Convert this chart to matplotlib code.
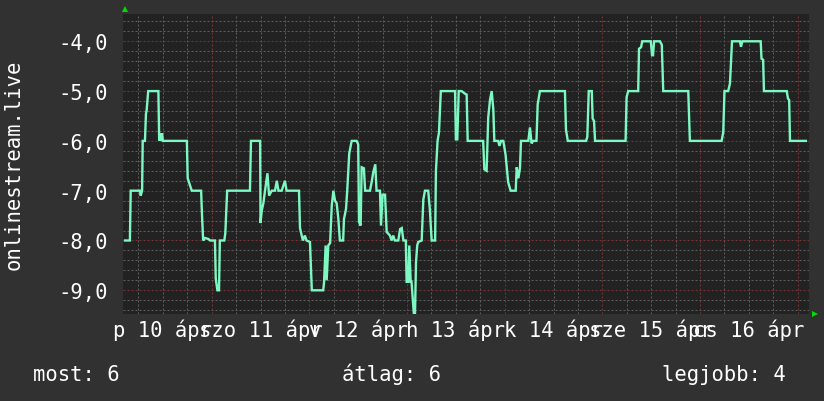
import numpy as np
import matplotlib
matplotlib.use("Agg")
import matplotlib.pyplot as plt
from matplotlib.ticker import MultipleLocator, FuncFormatter

# ---- data (time in hours from 10 Apr 00:00) ----
hours = [2.7, 3.9, 4.1, 6.4, 6.55, 6.9, 7.05, 7.6, 7.85, 8.0, 8.4, 10.9, 11.1, 11.4, 11.6, 11.8, 12.0,
         17.9, 18.1, 18.7, 19.1, 21.4, 21.6, 21.9, 22.35, 23.2, 23.6, 24.8, 25.0, 25.4, 25.8, 26.0,
         27.1, 27.35, 27.8, 33.4, 33.65, 35.9, 36.0, 36.3, 36.7, 37.1, 37.7, 38.1, 38.75, 39.55,
         40.0, 40.4, 41.2, 42.0, 42.4, 45.45, 45.7, 46.4, 46.9, 47.3, 48.15, 48.6, 51.4, 51.6,
         52.0, 52.25, 52.65, 53.1, 53.5, 53.9, 54.3, 54.7, 55.1, 55.5, 56.3, 56.5, 57.0, 57.3,
         57.8, 58.4, 59.6, 60.0, 60.2, 60.6, 60.85, 61.4, 61.7, 62.9, 63.3, 63.7, 64.2, 64.5,
         65.35, 65.6, 66.0, 66.6, 67.0, 67.8, 68.2, 68.6, 69.0, 69.85, 70.3, 70.7, 71.1, 71.7,
         71.9, 72.3, 72.55, 72.9, 73.1, 73.7, 73.95, 74.2, 74.5, 74.75, 75.6, 76.0, 76.4, 77.2,
         77.6, 78.05, 78.9, 79.1, 79.5, 79.85, 80.3, 83.8, 84.0, 84.35, 84.7, 85.4, 86.2, 86.65,
         86.9, 90.7, 91.0, 91.55, 91.95, 92.4, 92.8, 93.2, 93.45, 94.4, 94.7, 95.1, 95.65, 96.2,
         96.85, 97.45, 98.7, 98.95, 99.35, 99.75, 100.0, 101.8, 102.2, 102.6, 103.0, 103.8, 104.1,
         104.65, 110.8, 111.05, 111.5, 116.0, 116.3, 116.65, 117.4, 117.6, 117.95, 118.2, 125.7,
         125.95, 126.35, 128.8, 129.0, 129.5, 129.8, 131.9, 132.2, 132.45, 132.7, 134.15, 134.6,
         134.95, 141.1, 141.5, 149.3, 149.7, 150.0, 150.9, 151.35, 151.85, 153.8, 154.05, 154.4,
         158.9, 159.1, 159.5, 159.7, 165.3, 165.6, 165.9, 166.1, 170.0]
values = [-8.0, -8.0, -7.0, -7.0, -7.1, -7.0, -6.0, -6.0, -5.45, -5.4, -5.0, -5.0, -6.0, -5.85, -6.0, -5.85, -6.0,
          -6.0, -6.75, -6.9, -7.0, -7.0, -7.45, -8.0, -7.95, -7.97, -8.0, -8.0, -8.77, -9.0, -9.0, -8.0,
          -8.0, -7.85, -7.0, -7.0, -6.0, -6.0, -7.65, -7.4, -7.25, -7.0, -6.65, -7.1, -7.0, -7.0,
          -6.8, -7.0, -7.0, -6.8, -7.0, -7.0, -7.75, -8.0, -7.9, -8.0, -8.03, -9.0, -9.0, -8.85,
          -8.1, -8.8, -8.1, -8.05, -7.3, -7.0, -7.2, -7.25, -7.55, -8.0, -8.0, -7.57, -7.37, -7.0,
          -6.25, -6.0, -6.0, -6.07, -7.63, -7.7, -6.53, -6.55, -7.0, -7.0, -6.83, -6.63, -6.47, -7.0,
          -7.0, -7.7, -7.08, -7.08, -7.83, -7.9, -8.0, -7.9, -8.0, -8.0, -7.77, -7.75, -8.0, -8.0,
          -8.83, -8.83, -8.1, -8.83, -8.83, -9.5, -9.5, -8.44, -8.1, -8.03, -8.0, -7.18, -7.0, -7.0,
          -7.37, -8.0, -8.0, -6.6, -6.0, -5.83, -5.0, -5.0, -5.97, -5.97, -5.0, -5.0, -5.05, -5.07,
          -6.0, -6.0, -6.57, -6.6, -5.53, -5.17, -5.0, -5.37, -6.0, -6.0, -6.1, -6.0, -6.0, -6.27,
          -6.83, -7.0, -7.0, -6.53, -6.75, -6.55, -6.0, -6.0, -5.73, -6.05, -6.0, -6.0, -5.27,
          -5.0, -5.0, -5.77, -6.0, -6.0, -5.92, -5.0, -5.0, -5.55, -5.6, -6.0, -6.0,
          -5.12, -5.0, -5.0, -4.15, -4.12, -4.0, -4.0, -4.28, -4.28, -4.0, -4.0, -4.07,
          -5.0, -5.0, -6.0, -6.0, -5.82, -5.0, -5.0, -4.85, -4.0, -4.0, -4.11, -4.0,
          -4.0, -4.35, -4.37, -5.0, -5.0, -5.15, -5.18, -6.0, -6.0]

day_labels = ["p 10 ápr", "szo 11 ápr", "v 12 ápr", "h 13 ápr", "k 14 ápr", "sze 15 ápr", "cs 16 ápr"]
label_hours = [12, 36, 60, 84, 108, 132, 156]
y_ticks = [-9, -8, -7, -6, -5, -4]
y_title = "onlinestream.live"
legend_items = [("most", "6"), ("átlag", "6"), ("legjobb", "4")]

# ---- style ----
W, H = 824, 402
BG = "#313131"
PLOT_BG = "#222222"
FG = "#ffffff"
LINE = "#7df8c2"
MINOR = "#5e5e5e"
MAJOR = "#7a3434"
FONT = "DejaVu Sans Mono"
FS = 14.8

fig = plt.figure(figsize=(W / 100, H / 100), dpi=100, facecolor=BG)
ax = fig.add_axes([123.3 / W, (H - 315) / H, 685.7 / W, 300 / H])
ax.set_facecolor(PLOT_BG)
ax.set_xlim(2.28, 170.77)
ax.set_ylim(-9.476, -3.452)

for s in ax.spines.values():
    s.set_visible(False)

ax.xaxis.set_major_locator(MultipleLocator(24))
ax.xaxis.set_minor_locator(MultipleLocator(6))
ax.yaxis.set_major_locator(MultipleLocator(1))
ax.yaxis.set_minor_locator(MultipleLocator(0.2))
ax.set_axisbelow(True)
ax.grid(which="minor", color=MINOR, lw=0.72, linestyle=(0, (2, 2)))
ax.grid(which="major", color=MAJOR, lw=0.72, linestyle=(0, (2, 2)))
ax.tick_params(which="both", length=0)
ax.set_xticklabels([])
ax.set_yticks(y_ticks)
ax.yaxis.set_major_formatter(FuncFormatter(lambda v, p: f"{v:.1f}".replace(".", ",")))
ax.tick_params(axis="y", pad=11.2, labelcolor=FG, labelsize=FS)
for lab in ax.get_yticklabels():
    lab.set_family(FONT)

ax.plot(hours, values, color=LINE, lw=1.7, solid_joinstyle="miter")

# day labels centered at noon
for hx, lab in zip(label_hours, day_labels):
    ax.text(hx, (315 - 336.7) / 300, lab, transform=ax.get_xaxis_transform(),
            ha="center", va="baseline", color=FG, fontsize=FS, family=FONT, clip_on=False)

# y title
fig.text(14 / W, 1 - 165 / H, y_title, rotation=90, ha="center", va="center",
         color=FG, fontsize=FS, family=FONT)

# legend line
legend_x = [33, 341.5, 662.5]
for (name, val), lx in zip(legend_items, legend_x):
    fig.text(lx / W, 1 - 381 / H, f"{name}: {val}", ha="left", va="baseline",
             color=FG, fontsize=FS, family=FONT)

# arrows
ax.plot([0.0025], [1.0167], marker="^", color="#00dd00", markersize=4, transform=ax.transAxes,
        clip_on=False, markeredgewidth=0)
ax.plot([1.0088], [0.0], marker=">", color="#00dd00", markersize=4, transform=ax.transAxes,
        clip_on=False, markeredgewidth=0)

fig.savefig("out.png", dpi=100, facecolor=BG)
